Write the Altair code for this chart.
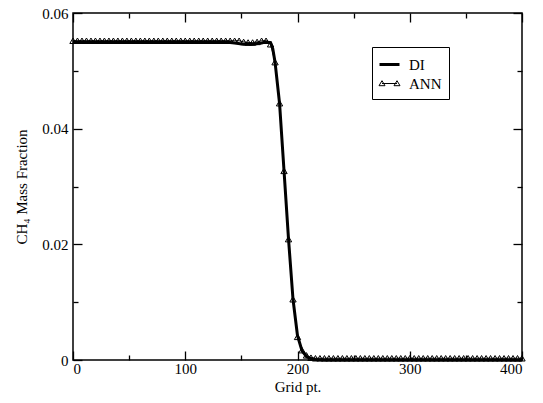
import altair as alt
import pandas as pd

# ---- data ----
di_x = [0, 136, 144, 152, 160, 168, 172, 176, 178, 180, 184, 188, 192, 196,
        200, 204, 208, 212, 216, 224, 400]
di_y = [0.055, 0.055, 0.0548, 0.0546, 0.0546, 0.0548, 0.055, 0.0549, 0.0538,
        0.0515, 0.0444, 0.0327, 0.0209, 0.0105, 0.0042, 0.0016, 0.0006,
        0.0002, 0.0001, 0.0, 0.0]

ann_x = list(range(0, 401, 4))
ann_y = ([0.0552] * 38 +
         [0.0550, 0.0549, 0.0549, 0.0550, 0.0552, 0.0552, 0.0546, 0.0515,
          0.0444, 0.0327, 0.0209, 0.0105, 0.0040, 0.0017, 0.0008, 0.0004] +
         [0.0003] * 47)

x_major = [0, 100, 200, 300, 400]
x_minor = [50, 150, 250, 350]
y_major = [0, 0.02, 0.04, 0.06]
y_minor = [0.01, 0.03, 0.05]

series = ["DI", "ANN"]
x_title = "Grid pt."
y_title = "CH₄ Mass Fraction"

di = pd.DataFrame({"x": di_x, "y": di_y, "series": "DI"})
ann = pd.DataFrame({"x": ann_x, "y": ann_y, "series": "ANN"})

FONT = "Liberation Serif"
MAJ = 9
MIN = 5

xs = alt.Scale(domain=[0, 400], nice=False, zero=False)
ys = alt.Scale(domain=[0, 0.06], nice=False, zero=False)

common = dict(domain=False, grid=False, tickColor="black", tickWidth=1.3,
              labelFont=FONT, labelFontSize=15, labelColor="black",
              titleFont=FONT, titleFontSize=15, titleFontWeight="normal",
              titleColor="black")


def xaxis(orient, values, size, labels, title=None):
    kw = dict(orient=orient, values=values, tickSize=size, offset=-size,
              labels=labels, **common)
    if title:
        kw.update(title=title, titlePadding=3)
    else:
        kw.update(title=None)
    if labels:
        kw.update(labelPadding=1, labelExpr="format(datum.value, 'd')")
    return alt.Axis(**kw)


def yaxis(orient, values, size, labels, title=None):
    kw = dict(orient=orient, values=values, tickSize=size, offset=-size,
              labels=labels, **common)
    if title:
        kw.update(title=title, titlePadding=12)
    else:
        kw.update(title=None)
    if labels:
        kw.update(labelPadding=5,
                  labelExpr="datum.value == 0 ? '0' : format(datum.value, '.2f')")
    return alt.Axis(**kw)


di_line = alt.Chart(di).mark_line(color="black", strokeWidth=3).encode(
    x=alt.X("x:Q", scale=xs, axis=xaxis("bottom", x_major, MAJ, True, x_title)),
    y=alt.Y("y:Q", scale=ys, axis=yaxis("left", y_major, MAJ, True, y_title)),
)

ann_line = alt.Chart(ann).mark_line(color="black", strokeWidth=1).encode(
    x=alt.X("x:Q", scale=xs, axis=xaxis("bottom", x_minor, MIN, False)),
    y=alt.Y("y:Q", scale=ys, axis=yaxis("left", y_minor, MIN, False)),
)

ann_pts = alt.Chart(ann).mark_point(
    shape="triangle-up", filled=False, color="black", size=40, strokeWidth=1,
    opacity=1,
).encode(
    x=alt.X("x:Q", scale=xs, axis=xaxis("top", x_major, MAJ, False)),
    y=alt.Y("y:Q", scale=ys, axis=yaxis("right", y_major, MAJ, False)),
)

di_sym = "M-1,-0.1L1,-0.1M-1,0L1,0M-1,0.1L1,0.1"
ann_sym = ("M-0.75,0L0.75,0"
           "M-0.75,-0.28L-1.05,0.22L-0.45,0.22Z"
           "M0.75,-0.28L1.05,0.22L0.45,0.22Z")

legend_layer = alt.Chart(di).mark_point(
    filled=False, color="black", size=400, strokeWidth=1, opacity=1
).encode(
    x=alt.X("x:Q", scale=xs, axis=xaxis("top", x_minor, MIN, False)),
    y=alt.Y("y:Q", scale=ys, axis=yaxis("right", y_minor, MIN, False)),
    shape=alt.Shape(
        "series:N",
        scale=alt.Scale(domain=series, range=[di_sym, ann_sym]),
        legend=alt.Legend(
            title=None, orient="none", legendX=299, legendY=34,
            strokeColor="black", fillColor="white", padding=7,
            labelFont=FONT, labelFontSize=15, labelColor="black",
            labelOffset=9, rowPadding=0, symbolSize=400,
            symbolStrokeColor="black", symbolStrokeWidth=1,
            symbolFillColor="transparent", cornerRadius=0,
        ),
    ),
).transform_filter("false")

chart = alt.layer(di_line, ann_line, ann_pts, legend_layer).resolve_axis(
    x="independent", y="independent"
).properties(
    width=449, height=347,
    background="white",
    autosize=alt.AutoSizeParams(type="none"),
    padding={"left": 73, "top": 13, "right": 21, "bottom": 43},
).configure_view(
    stroke="black", strokeWidth=1.5
)

chart.save("out.html", embed_options={"renderer": "svg", "actions": False})
